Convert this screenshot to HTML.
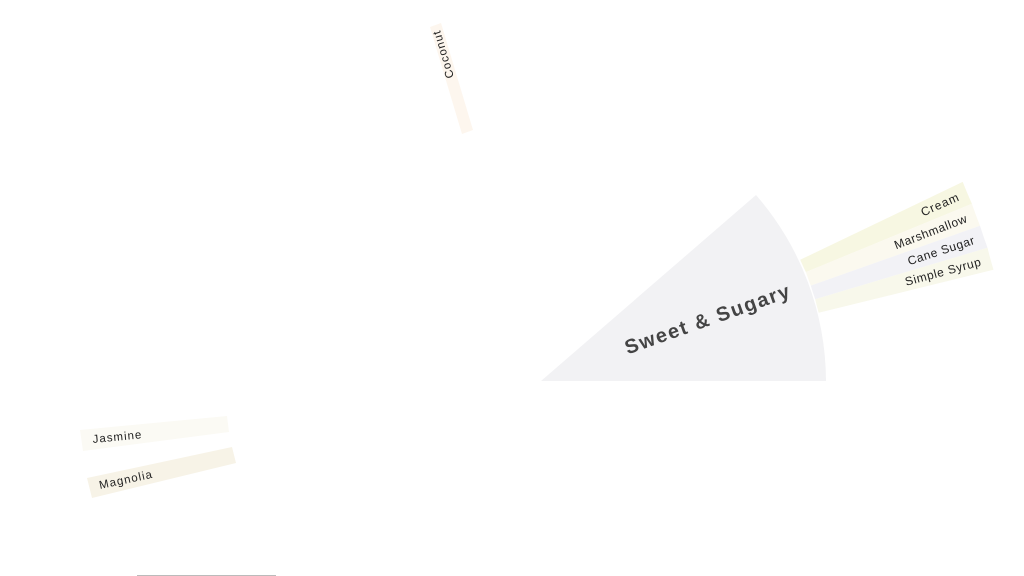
<!DOCTYPE html>
<html><head><meta charset="utf-8"><style>
html,body{margin:0;padding:0;background:#fff;width:1024px;height:576px;overflow:hidden}
svg{display:block}
text{font-family:"Liberation Sans","DejaVu Sans",sans-serif;fill:#222}
</style></head><body>
<svg width="1024" height="576" viewBox="0 0 1024 576">
<path d="M541,381 L826,381 A285,285 0 0 0 756,195 Z" fill="#f2f2f4"/>
<g transform="translate(541,381)">
  <path d="M259.2,-121.2 L421.7,-199.1 A466,466 0 0 0 430.9,-177.3 L264.9,-108.9 A286,286 0 0 1 259.2,-121.2 Z" fill="#f7f7e2"/>
  <path d="M264.9,-108.9 L430.9,-177.3 A466,466 0 0 0 439.0,-155.2 L269.8,-95.4 A286,286 0 0 1 264.9,-108.9 Z" fill="#fbf9ef"/>
  <path d="M269.8,-95.4 L439.0,-155.2 A466,466 0 0 0 446.5,-133.2 L274.2,-81.8 A286,286 0 0 1 269.8,-95.4 Z" fill="#f2f2f6"/>
  <path d="M274.2,-81.8 L446.5,-133.2 A466,466 0 0 0 452.5,-111.2 L277.7,-68.3 A286,286 0 0 1 274.2,-81.8 Z" fill="#f8f8eb"/>
  <text transform="rotate(-23.85) translate(457,4)" text-anchor="end" font-size="12" letter-spacing="1">Cream</text>
  <text transform="rotate(-20.95) translate(456,4)" text-anchor="end" font-size="12" letter-spacing="0.6">Marshmallow</text>
  <text transform="rotate(-18.05) translate(456,4)" text-anchor="end" font-size="12" letter-spacing="0.6">Cane Sugar</text>
  <text transform="rotate(-15.2) translate(456,4)" text-anchor="end" font-size="12" letter-spacing="0.6">Simple Syrup</text>
  <text transform="rotate(-19.5) translate(178,4)" text-anchor="middle" font-size="20" font-weight="bold" letter-spacing="1.7" style="fill:#444">Sweet &amp; Sugary</text>
</g>
<polygon points="430,27 441,23 473,130 462,134" fill="#fdf6ee"/>
<text transform="translate(454,77) rotate(-106.6)" font-size="11.5" letter-spacing="1">Coconut</text>
<polygon points="80,430 227,416 229,432 83,451" fill="#fbfaf4"/>
<text transform="translate(93,443) rotate(-5.5)" font-size="11.5" letter-spacing="1">Jasmine</text>
<polygon points="87,478 232,447 236,463 92,498" fill="#f7f3e7"/>
<text transform="translate(100,489) rotate(-12)" font-size="11.5" letter-spacing="1">Magnolia</text>
<line x1="137" y1="575.5" x2="276" y2="575.5" stroke="#bbb" stroke-width="1"/>
</svg>
</body></html>
